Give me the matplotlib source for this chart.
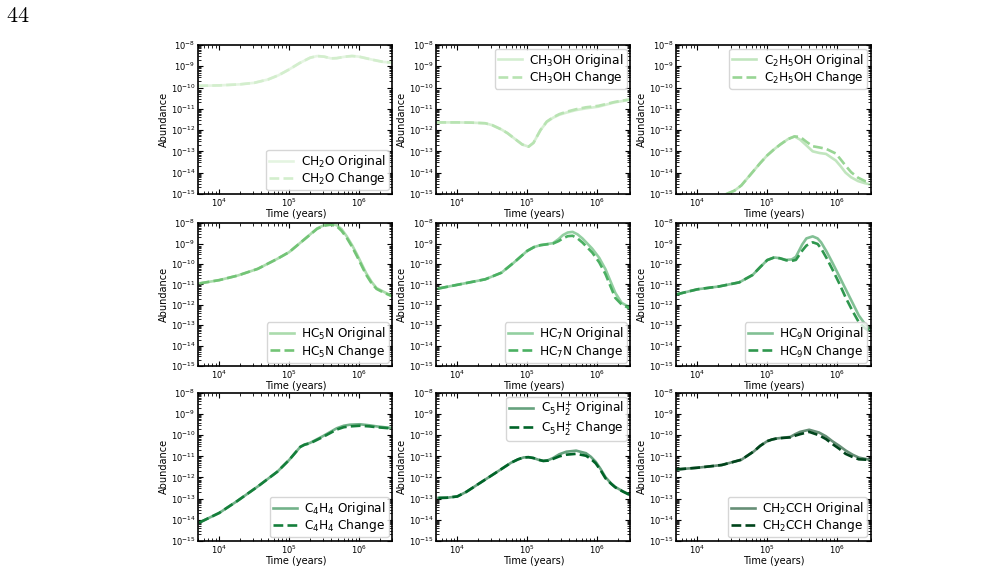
import matplotlib.pyplot as plt
import numpy as np

# log10 time (years) / log10 abundance
species = ["CH$_2$O", "CH$_3$OH", "C$_2$H$_5$OH",
           "HC$_5$N", "HC$_7$N", "HC$_9$N",
           "C$_4$H$_4$", r"C$_5$H$_2^{+}$", "CH$_2$CCH"]
legend_loc = ["lower right", "upper right", "upper right",
              "lower right", "lower right", "lower right",
              "lower right", "upper right", "lower right"]

t_ch2o = [3.7, 4.0, 4.3, 4.5, 4.7, 4.85, 5.0, 5.15, 5.3, 5.4, 5.5, 5.6, 5.68, 5.8, 5.9, 6.0, 6.2, 6.35, 6.48]
ch2o_orig = [-9.92, -9.9, -9.85, -9.78, -9.62, -9.42, -9.15, -8.85, -8.6, -8.52, -8.55, -8.63, -8.62, -8.55, -8.52, -8.55, -8.7, -8.8, -8.83]
ch2o_chg = [-9.92, -9.9, -9.85, -9.78, -9.62, -9.42, -9.15, -8.85, -8.6, -8.52, -8.55, -8.63, -8.62, -8.55, -8.52, -8.55, -8.7, -8.8, -8.83]

t_ch3oh = [3.7, 4.0, 4.2, 4.4, 4.5, 4.63, 4.72, 4.81, 4.93, 5.02, 5.09, 5.14, 5.19, 5.28, 5.37, 5.46, 5.56, 5.7, 5.84, 6.02, 6.25, 6.48]
ch3oh_orig = [-11.64, -11.64, -11.65, -11.68, -11.77, -11.97, -12.15, -12.38, -12.68, -12.78, -12.6, -12.3, -12.0, -11.62, -11.42, -11.28, -11.18, -11.06, -10.98, -10.9, -10.7, -10.57]
ch3oh_chg = [-11.64, -11.64, -11.65, -11.68, -11.77, -11.97, -12.15, -12.38, -12.68, -12.78, -12.6, -12.3, -12.0, -11.6, -11.4, -11.25, -11.14, -11.02, -10.93, -10.86, -10.68, -10.55]

t_c2h5oh = [4.42, 4.53, 4.63, 4.72, 4.81, 4.9, 5.0, 5.1, 5.19, 5.3, 5.39, 5.47, 5.56, 5.65, 5.75, 5.84, 5.98, 6.05, 6.12, 6.2, 6.3, 6.4, 6.48]
c2h5oh_orig = [-15.0, -14.85, -14.6, -14.25, -13.9, -13.55, -13.19, -12.9, -12.67, -12.42, -12.3, -12.45, -12.72, -13.0, -13.08, -13.12, -13.43, -13.7, -14.0, -14.22, -14.4, -14.5, -14.56]
c2h5oh_chg = [-15.0, -14.85, -14.6, -14.25, -13.9, -13.55, -13.19, -12.9, -12.67, -12.42, -12.3, -12.32, -12.55, -12.76, -12.82, -12.88, -13.1, -13.38, -13.67, -13.98, -14.24, -14.4, -14.46]

t_hc5n = [3.72, 4.0, 4.26, 4.55, 4.83, 5.0, 5.22, 5.4, 5.5, 5.59, 5.68, 5.75, 5.82, 5.9, 5.97, 6.1, 6.18, 6.25, 6.34, 6.47]
hc5n_orig = [-10.95, -10.79, -10.57, -10.24, -9.75, -9.42, -8.79, -8.26, -8.1, -8.05, -8.1, -8.3, -8.63, -9.08, -9.53, -10.44, -10.88, -11.18, -11.34, -11.56]
hc5n_chg = [-10.95, -10.79, -10.57, -10.24, -9.75, -9.42, -8.79, -8.28, -8.13, -8.08, -8.15, -8.38, -8.7, -9.16, -9.62, -10.52, -10.95, -11.22, -11.38, -11.58]

t_hc7n = [3.73, 4.0, 4.4, 4.63, 4.81, 5.0, 5.1, 5.19, 5.37, 5.45, 5.51, 5.58, 5.65, 5.72, 5.79, 5.93, 6.03, 6.12, 6.26, 6.35, 6.48]
hc7n_orig = [-11.2, -11.02, -10.75, -10.43, -9.93, -9.36, -9.17, -9.08, -8.98, -8.78, -8.59, -8.46, -8.43, -8.55, -8.75, -9.25, -9.7, -10.26, -11.41, -11.9, -12.15]
hc7n_chg = [-11.2, -11.02, -10.75, -10.43, -9.93, -9.36, -9.17, -9.08, -9.0, -8.88, -8.75, -8.64, -8.62, -8.75, -8.95, -9.44, -9.92, -10.5, -11.66, -11.98, -12.2]

t_hc9n = [3.7, 4.0, 4.31, 4.6, 4.79, 4.9, 5.0, 5.1, 5.18, 5.27, 5.35, 5.41, 5.5, 5.56, 5.65, 5.72, 5.77, 5.85, 5.93, 6.03, 6.12, 6.22, 6.31, 6.4, 6.48]
hc9n_orig = [-11.49, -11.24, -11.1, -10.9, -10.54, -10.15, -9.81, -9.68, -9.72, -9.8, -9.78, -9.65, -9.05, -8.75, -8.65, -8.75, -8.94, -9.4, -9.92, -10.6, -11.22, -11.9, -12.52, -12.95, -13.24]
hc9n_chg = [-11.49, -11.24, -11.1, -10.9, -10.54, -10.15, -9.81, -9.68, -9.72, -9.82, -9.85, -9.8, -9.35, -9.1, -8.94, -9.02, -9.24, -9.72, -10.25, -10.95, -11.63, -12.3, -12.85, -13.15, -13.33]

t_c4h4 = [3.72, 4.0, 4.26, 4.55, 4.83, 5.0, 5.1, 5.16, 5.22, 5.3, 5.49, 5.68, 5.78, 5.87, 6.01, 6.15, 6.25, 6.47]
c4h4_orig = [-14.13, -13.68, -13.11, -12.43, -11.73, -11.17, -10.78, -10.55, -10.44, -10.36, -10.03, -9.67, -9.55, -9.5, -9.48, -9.53, -9.58, -9.66]
c4h4_chg = [-14.13, -13.68, -13.11, -12.43, -11.73, -11.17, -10.78, -10.55, -10.45, -10.38, -10.07, -9.73, -9.62, -9.58, -9.55, -9.58, -9.62, -9.68]

t_c5h2 = [3.73, 3.85, 4.0, 4.13, 4.26, 4.53, 4.77, 4.87, 4.95, 5.02, 5.09, 5.16, 5.23, 5.3, 5.37, 5.46, 5.56, 5.7, 5.84, 5.91, 5.98, 6.05, 6.12, 6.2, 6.26, 6.37, 6.48]
c5h2_orig = [-12.97, -12.96, -12.9, -12.68, -12.4, -11.82, -11.3, -11.14, -11.05, -11.04, -11.08, -11.16, -11.21, -11.18, -11.08, -10.9, -10.78, -10.73, -10.85, -11.02, -11.26, -11.6, -11.99, -12.28, -12.45, -12.66, -12.84]
c5h2_chg = [-12.97, -12.96, -12.9, -12.68, -12.4, -11.82, -11.3, -11.14, -11.05, -11.04, -11.08, -11.16, -11.22, -11.2, -11.12, -11.0, -10.92, -10.88, -10.97, -11.12, -11.33, -11.66, -12.04, -12.3, -12.47, -12.67, -12.85]

t_ch2cch = [3.7, 4.0, 4.35, 4.63, 4.81, 4.9, 5.0, 5.07, 5.14, 5.33, 5.4, 5.47, 5.6, 5.74, 5.84, 5.93, 6.03, 6.12, 6.22, 6.31, 6.48]
ch2cch_orig = [-11.62, -11.54, -11.41, -11.16, -10.76, -10.5, -10.28, -10.2, -10.15, -10.08, -9.95, -9.84, -9.74, -9.87, -10.05, -10.28, -10.5, -10.72, -10.92, -11.06, -11.17]
ch2cch_chg = [-11.62, -11.54, -11.41, -11.16, -10.76, -10.5, -10.28, -10.2, -10.15, -10.1, -10.02, -9.95, -9.84, -10.0, -10.18, -10.41, -10.64, -10.88, -11.03, -11.14, -11.17]

times = [t_ch2o, t_ch3oh, t_c2h5oh, t_hc5n, t_hc7n, t_hc9n, t_c4h4, t_c5h2, t_ch2cch]
orig = [ch2o_orig, ch3oh_orig, c2h5oh_orig, hc5n_orig, hc7n_orig, hc9n_orig, c4h4_orig, c5h2_orig, ch2cch_orig]
chg = [ch2o_chg, ch3oh_chg, c2h5oh_chg, hc5n_chg, hc7n_chg, hc9n_chg, c4h4_chg, c5h2_chg, ch2cch_chg]

cores = plt.cm.Greens(np.linspace(0.2, 1.0, 9))

fig = plt.figure(figsize=(9.96, 5.84), dpi=100)
fig.text(0.006, 0.972, r'$44$', fontsize=16, math_fontfamily='cm', va='center')

lefts = [0.199, 0.438, 0.679]
bottoms = [0.668, 0.373, 0.074]
alturas = [0.255, 0.245, 0.253]
w = 0.195

for i in range(9):
    lin, col = divmod(i, 3)
    ax = fig.add_axes([lefts[col], bottoms[lin], w, alturas[lin]])
    t = 10 ** np.array(times[i])
    ax.plot(t, 10 ** np.array(orig[i]), color=cores[i], alpha=0.6, lw=1.9,
            label=f'{species[i]} Original')
    ax.plot(t, 10 ** np.array(chg[i]), color=cores[i], lw=1.9, ls='--',
            label=f'{species[i]} Change')
    ax.set_xscale('log')
    ax.set_yscale('log')
    ax.set_xlim(5e3, 3e6)
    ax.set_ylim(1e-15, 1e-8)
    ax.set_yticks(10.0 ** np.arange(-15, -7))
    ax.tick_params(which='both', direction='in', top=True, right=True, labelsize=6, pad=2)
    ax.tick_params(which='major', length=3.5)
    ax.tick_params(which='minor', length=2)
    for s in ax.spines.values():
        s.set_linewidth(1.2)
    ax.set_xlabel('Time (years)', fontsize=7, labelpad=0)
    ax.set_ylabel('Abundance', fontsize=7, labelpad=1)
    ax.legend(loc=legend_loc[i], fontsize=8.7, handlelength=2.0,
              borderpad=0.25, labelspacing=0.02, borderaxespad=0.3, handletextpad=0.6)

plt.savefig('out.png', dpi=100)
